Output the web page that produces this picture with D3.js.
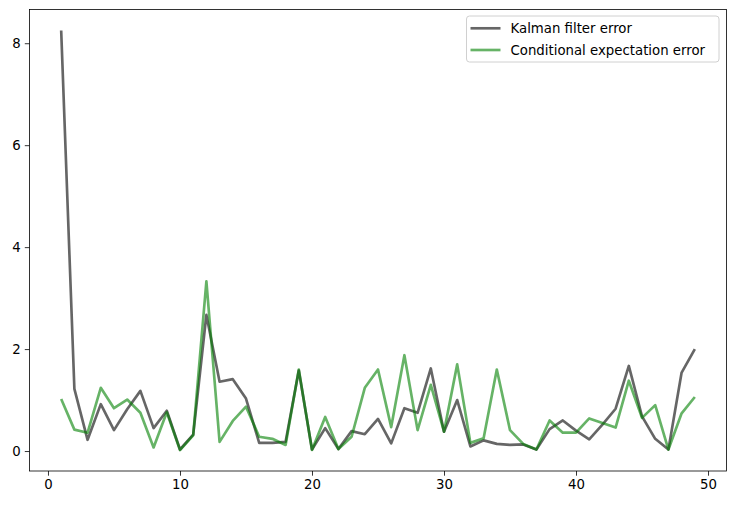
<!DOCTYPE html>
<html>
<head>
<meta charset="utf-8">
<script src="https://cdn.jsdelivr.net/npm/d3@7"></script>
<style>
  body { margin: 0; background: #fff; }
  svg text { font-family: "DejaVu Sans", sans-serif; }
</style>
</head>
<body>
<svg width="736" height="505"></svg>
<script>
// step index 1..49
var steps = d3.range(1, 50);

var kalmanError = [
  8.25, 1.22, 0.22, 0.92, 0.41, 0.82, 1.18, 0.45, 0.79, 0.03,
  0.32, 2.67, 1.36, 1.41, 1.03, 0.16, 0.16, 0.18, 1.58, 0.03,
  0.45, 0.04, 0.39, 0.33, 0.63, 0.15, 0.84, 0.75, 1.62, 0.38,
  1.0, 0.09, 0.21, 0.14, 0.12, 0.13, 0.03, 0.43, 0.6, 0.4,
  0.23, 0.52, 0.83, 1.67, 0.68, 0.24, 0.03, 1.54, 2.0
];

var condExpError = [
  1.02, 0.42, 0.36, 1.24, 0.84, 1.01, 0.75, 0.07, 0.76, 0.02,
  0.31, 3.33, 0.18, 0.59, 0.87, 0.28, 0.24, 0.12, 1.6, 0.02,
  0.67, 0.04, 0.28, 1.24, 1.6, 0.47, 1.88, 0.41, 1.3, 0.38,
  1.7, 0.16, 0.25, 1.6, 0.41, 0.14, 0.03, 0.6, 0.36, 0.36,
  0.64, 0.55, 0.46, 1.38, 0.65, 0.9, 0.03, 0.74, 1.06
];

var xTicks = [0, 10, 20, 30, 40, 50];
var yTicks = [0, 2, 4, 6, 8];

var series = [
  { name: "Kalman filter error", values: kalmanError, color: "#000000" },
  { name: "Conditional expectation error", values: condExpError, color: "#008000" }
];

var svg = d3.select("svg");
var margin = { top: 9.5, right: 9.5, bottom: 34, left: 29.5 },
  width = 736 - margin.left - margin.right,
  height = 505 - margin.top - margin.bottom;

var g = svg.append("g")
  .attr("transform", "translate(" + margin.left + "," + margin.top + ")");

// matplotlib-style 5% padding on data range
var xPad = (49 - 1) * 0.05;
var x = d3.scaleLinear().domain([1 - xPad, 49 + xPad]).range([0, width]);

var allVals = kalmanError.concat(condExpError);
var yMin = d3.min(allVals), yMax = d3.max(allVals);
var yPad = (yMax - yMin) * 0.05;
var y = d3.scaleLinear().domain([yMin - yPad, yMax + yPad]).range([height, 0]);

var line = d3.line()
  .x(function (d, i) { return x(steps[i]); })
  .y(function (d) { return y(d); });

g.selectAll("path.series")
  .data(series)
  .enter()
  .append("path")
  .attr("class", "series")
  .attr("d", function (d) { return line(d.values); })
  .attr("fill", "none")
  .attr("stroke", function (d) { return d.color; })
  .attr("stroke-opacity", 0.6)
  .attr("stroke-width", 2.67)
  .attr("stroke-linejoin", "round");

// axes
var xAxis = g.append("g")
  .attr("transform", "translate(0," + height + ")")
  .call(d3.axisBottom(x).tickValues(xTicks).tickSize(4.7).tickPadding(4));
var yAxis = g.append("g")
  .call(d3.axisLeft(y).tickValues(yTicks).tickSize(4.7).tickPadding(4));

[xAxis, yAxis].forEach(function (a) {
  a.select(".domain").remove();
  a.selectAll("line").attr("stroke", "#000").attr("stroke-width", 0.8);
  a.selectAll("text").attr("font-size", "13.3px").attr("fill", "#000")
    .attr("font-family", "DejaVu Sans, sans-serif");
});

// frame
g.append("rect")
  .attr("width", width)
  .attr("height", height)
  .attr("fill", "none")
  .attr("stroke", "#000")
  .attr("stroke-width", 0.8);

// legend
var legend = svg.append("g").attr("transform", "translate(466.5,16)");
legend.append("rect")
  .attr("width", 252.5)
  .attr("height", 46)
  .attr("rx", 3)
  .attr("fill", "#fff")
  .attr("fill-opacity", 0.8)
  .attr("stroke", "#d0d0d0")
  .attr("stroke-width", 1);

var items = legend.selectAll("g.item")
  .data(series)
  .enter()
  .append("g")
  .attr("class", "item")
  .attr("transform", function (d, i) { return "translate(0," + (12.3 + i * 21.7) + ")"; });

items.append("line")
  .attr("x1", 4).attr("x2", 34)
  .attr("stroke", function (d) { return d.color; })
  .attr("stroke-opacity", 0.6)
  .attr("stroke-width", 2.67);

items.append("text")
  .attr("x", 44)
  .attr("dy", "0.35em")
  .attr("font-size", "13.3px")
  .text(function (d) { return d.name; });
</script>
</body>
</html>
